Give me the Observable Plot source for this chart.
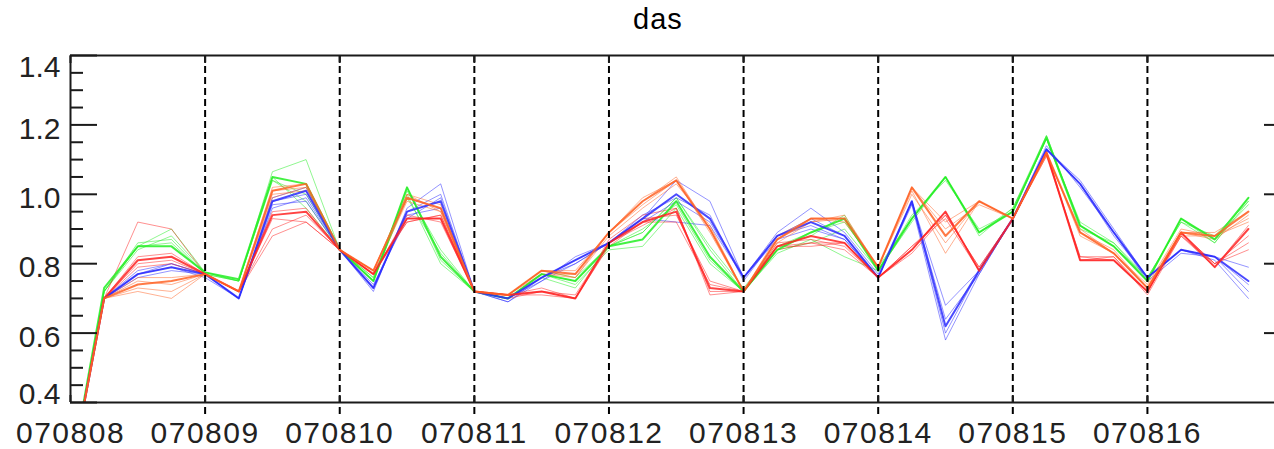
<!DOCTYPE html>
<html>
<head>
<meta charset="utf-8">
<script src="https://cdn.jsdelivr.net/npm/d3@7"></script>
<script src="https://cdn.jsdelivr.net/npm/@observablehq/plot@0.6"></script>
<style>
  html, body { margin: 0; padding: 0; background: #fff; }
  #title { position: relative; height: 37px; width: 1274px; overflow: hidden;
           font-family: "Liberation Sans", Arial, sans-serif; font-size: 29px; color: #000; }
  #title span { position: absolute; left: 633px; top: 5px; line-height: 29px; letter-spacing: 1px; }
  #chart svg { display: block; }
  #chart g[aria-label="x-axis tick label"] text { letter-spacing: 1.5px; }
</style>
</head>
<body>
<div id="title"><span>das</span></div>
<div id="chart"></div>
<script>
// time in days since 070808 00Z (every 6 hours)
const times = [0,0.25,0.5,0.75,1,1.25,1.5,1.75,2,2.25,2.5,2.75,3,3.25,3.5,3.75,4,4.25,4.5,4.75,5,5.25,5.5,5.75,6,6.25,6.5,6.75,7,7.25,7.5,7.75,8,8.25,8.5,8.75];
const days = [0,1,2,3,4,5,6,7,8];
const dayLabels = ["070808","070809","070810","070811","070812","070813","070814","070815","070816"];
const yMajor = [0.4,0.6,0.8,1.0,1.2,1.4];
const yMinor = [0.45,0.5,0.55,0.65,0.7,0.75,0.85,0.9,0.95,1.05,1.1,1.15,1.25,1.3,1.35];

// green ensemble
const greenCore = [0.19,0.73,0.85,0.85,0.775,0.755,1.05,1.03,0.84,0.75,1.02,0.82,0.72,0.70,0.77,0.75,0.85,0.87,0.98,0.82,0.72,0.84,0.89,0.93,0.78,0.93,1.05,0.89,0.95,1.165,0.91,0.85,0.75,0.93,0.87,0.99];
const green1 = [0.19,0.72,0.85,0.90,0.775,0.75,1.065,1.10,0.84,0.76,1.01,0.84,0.72,0.71,0.78,0.76,0.85,0.89,0.99,0.85,0.73,0.85,0.88,0.94,0.78,0.94,1.04,0.90,0.95,1.16,0.92,0.86,0.76,0.92,0.88,0.98];
const green2 = [0.19,0.72,0.84,0.88,0.775,0.75,1.04,0.98,0.84,0.75,1.00,0.80,0.72,0.70,0.77,0.74,0.84,0.85,0.96,0.80,0.72,0.83,0.87,0.82,0.78,0.92,1.05,0.88,0.96,1.17,0.91,0.85,0.75,0.93,0.86,0.99];
const green3 = [0.19,0.72,0.86,0.87,0.77,0.75,1.05,0.96,0.84,0.75,1.02,0.81,0.72,0.70,0.76,0.73,0.85,0.90,0.97,0.81,0.72,0.84,0.86,0.90,0.78,0.93,1.05,0.89,0.95,1.16,0.90,0.86,0.75,0.93,0.87,0.97];
const green4 = [0.19,0.72,0.85,0.86,0.77,0.75,1.04,1.00,0.84,0.76,0.99,0.83,0.72,0.70,0.77,0.75,0.85,0.89,0.99,0.84,0.72,0.85,0.89,0.92,0.79,0.93,1.05,0.89,0.96,1.16,0.91,0.85,0.76,0.92,0.86,0.98];

// blue ensemble
const blueCore = [0.19,0.70,0.77,0.79,0.77,0.70,0.98,1.01,0.84,0.73,0.95,0.98,0.72,0.70,0.76,0.81,0.86,0.93,1.00,0.93,0.76,0.88,0.92,0.88,0.76,0.98,0.62,0.78,0.93,1.13,1.03,0.89,0.76,0.84,0.82,0.75];
const blue1 = [0.19,0.70,0.78,0.80,0.77,0.70,0.99,1.02,0.84,0.72,0.96,1.03,0.72,0.69,0.75,0.82,0.86,0.93,1.04,0.98,0.76,0.89,0.96,0.89,0.77,0.98,0.68,0.78,0.93,1.13,1.04,0.90,0.76,0.84,0.82,0.79];
const blue2 = [0.19,0.70,0.76,0.78,0.77,0.70,0.97,0.98,0.84,0.74,0.93,0.99,0.72,0.70,0.75,0.80,0.86,0.92,0.98,0.92,0.76,0.87,0.90,0.87,0.76,0.97,0.58,0.77,0.93,1.14,1.02,0.89,0.75,0.83,0.82,0.72];
const blue3 = [0.19,0.70,0.77,0.79,0.76,0.70,0.96,0.99,0.84,0.73,0.94,0.96,0.72,0.69,0.76,0.81,0.86,0.94,0.99,0.94,0.75,0.88,0.93,0.88,0.76,0.98,0.64,0.77,0.93,1.13,1.03,0.89,0.76,0.84,0.81,0.70];
const blue4 = [0.19,0.70,0.77,0.80,0.77,0.70,0.98,1.00,0.84,0.73,0.95,1.00,0.72,0.70,0.76,0.80,0.86,0.93,0.92,0.91,0.76,0.88,0.91,0.87,0.76,0.98,0.60,0.78,0.93,1.13,1.03,0.88,0.76,0.84,0.82,0.74];

// red ensemble
const redCore = [0.19,0.70,0.81,0.82,0.77,0.72,0.94,0.95,0.84,0.77,0.93,0.93,0.72,0.71,0.72,0.70,0.86,0.92,0.95,0.73,0.72,0.85,0.88,0.86,0.76,0.84,0.95,0.78,0.93,1.12,0.81,0.81,0.72,0.89,0.79,0.90];
const red1 = [0.19,0.70,0.92,0.90,0.77,0.72,0.93,0.92,0.84,0.77,0.94,0.92,0.72,0.71,0.72,0.70,0.87,0.94,0.96,0.71,0.72,0.86,0.87,0.85,0.76,0.85,0.94,0.79,0.93,1.12,0.82,0.82,0.71,0.88,0.80,0.88];
const red2 = [0.19,0.70,0.82,0.83,0.77,0.72,0.88,0.92,0.84,0.78,0.92,0.94,0.72,0.71,0.71,0.70,0.86,0.93,0.94,0.75,0.72,0.84,0.86,0.84,0.76,0.84,0.95,0.78,0.93,1.11,0.82,0.81,0.72,0.89,0.80,0.86];
const red3 = [0.19,0.70,0.80,0.81,0.77,0.72,0.95,0.96,0.84,0.77,0.93,0.93,0.72,0.70,0.72,0.71,0.86,0.91,0.96,0.72,0.72,0.85,0.85,0.86,0.76,0.83,0.94,0.79,0.93,1.12,0.81,0.81,0.72,0.88,0.79,0.91];
const red4 = [0.19,0.70,0.79,0.80,0.77,0.72,0.90,0.94,0.84,0.77,0.92,0.94,0.72,0.71,0.73,0.70,0.85,0.92,0.92,0.74,0.72,0.85,0.86,0.86,0.76,0.85,0.93,0.78,0.93,1.12,0.81,0.82,0.72,0.89,0.80,0.84];

// orange ensemble
const orangeCore = [0.19,0.70,0.74,0.75,0.77,0.72,1.01,1.03,0.84,0.78,0.99,0.96,0.72,0.71,0.78,0.77,0.89,0.98,1.04,0.90,0.72,0.87,0.93,0.93,0.79,1.02,0.88,0.98,0.93,1.12,0.89,0.83,0.73,0.89,0.88,0.95];
const orange1 = [0.19,0.70,0.73,0.72,0.77,0.72,1.02,1.03,0.84,0.78,1.00,0.95,0.72,0.71,0.78,0.78,0.89,0.97,1.04,0.89,0.72,0.86,0.92,0.94,0.79,1.01,0.83,0.98,0.93,1.12,0.88,0.83,0.73,0.88,0.88,0.92];
const orange2 = [0.19,0.70,0.75,0.74,0.77,0.72,0.99,1.02,0.84,0.77,0.98,0.95,0.72,0.71,0.77,0.76,0.88,0.96,1.03,0.91,0.72,0.87,0.93,0.92,0.79,1.00,0.86,0.98,0.93,1.12,0.89,0.84,0.73,0.89,0.87,0.94];
const orange3 = [0.19,0.70,0.72,0.70,0.77,0.72,1.00,1.01,0.84,0.78,0.99,0.96,0.72,0.70,0.77,0.77,0.89,0.99,1.04,0.90,0.72,0.88,0.93,0.93,0.79,1.02,0.90,0.97,0.93,1.11,0.90,0.83,0.74,0.90,0.88,0.93];
const orange4 = [0.19,0.70,0.76,0.76,0.77,0.72,1.01,1.02,0.84,0.78,1.00,0.97,0.72,0.71,0.78,0.76,0.89,0.98,1.05,0.90,0.72,0.87,0.92,0.93,0.79,1.02,0.92,0.98,0.93,1.12,0.89,0.83,0.73,0.89,0.89,0.95];

const groups = [
  {color: "#22ee22", core: greenCore, members: [green1, green2, green3, green4]},
  {color: "#2a2aff", core: blueCore, members: [blue1, blue2, blue3, blue4]},
  {color: "#ff2222", core: redCore, members: [red1, red2, red3, red4]},
  {color: "#ff6326", core: orangeCore, members: [orange1, orange2, orange3, orange4]}
];

const thin = [], bold = [];
groups.forEach((g, gi) => {
  g.members.forEach((arr, mi) => arr.forEach((v, i) => thin.push({t: times[i], v, id: gi * 10 + mi, c: g.color})));
  g.core.forEach((v, i) => bold.push({t: times[i], v, id: gi, c: g.color}));
});

const ink = "#1a1a1a";
const font = "Liberation Sans, Arial, sans-serif";

const chart = Plot.plot({
  width: 1274,
  height: 412,
  marginLeft: 70,
  marginRight: 0,
  marginTop: 18,
  marginBottom: 47,
  style: {fontFamily: font, background: "#fff", color: ink},
  x: {domain: [0, 8.944], axis: null},
  y: {domain: [0.4, 1.4], axis: null},
  marks: [
    Plot.line(thin, {x: "t", y: "v", z: "id", stroke: "c", strokeWidth: 1, strokeOpacity: 0.5, clip: true}),
    Plot.line(bold, {x: "t", y: "v", z: "id", stroke: "c", strokeWidth: 2, strokeOpacity: 0.85, clip: true}),
    // dashed day separators
    Plot.ruleX(days.slice(1), {stroke: "#000", strokeWidth: 2, strokeDasharray: "7,4", insetBottom: -12}),
    // frame (top, bottom, left)
    Plot.ruleY([0.4, 1.4], {stroke: ink, strokeWidth: 2}),
    Plot.ruleX([0], {stroke: ink, strokeWidth: 2}),
    // y ticks (inward)
    Plot.axisY(yMajor, {anchor: "left", tickSize: -27, fill: "none", stroke: ink, strokeWidth: 2, label: null}),
    Plot.axisY(yMinor, {anchor: "left", tickSize: -13, fill: "none", stroke: ink, strokeWidth: 2, label: null}),
    Plot.axisY([0.6, 0.8, 1.0, 1.2], {anchor: "right", tickSize: -11, fill: "none", stroke: ink, strokeWidth: 2, label: null}),
    // y labels
    Plot.axisY([0.6, 0.8, 1.0, 1.2], {anchor: "left", tickSize: 0, tickPadding: 10, dy: 4, fontSize: 30, fill: "#222", tickFormat: d => d.toFixed(1), label: null}),
    Plot.axisY([1.4], {anchor: "left", tickSize: 0, tickPadding: 10, dy: 12, fontSize: 30, fill: "#222", tickFormat: d => d.toFixed(1), label: null}),
    Plot.axisY([0.4], {anchor: "left", tickSize: 0, tickPadding: 10, dy: -8, fontSize: 30, fill: "#222", tickFormat: d => d.toFixed(1), label: null}),
    // x ticks (inward, top and bottom)
    Plot.axisX(days, {anchor: "top", tickSize: -7, fill: "none", stroke: ink, strokeWidth: 2, label: null}),
    Plot.axisX(days, {anchor: "bottom", tickSize: -7, fill: "none", stroke: ink, strokeWidth: 2, label: null}),
    // x labels
    Plot.axisX(days, {anchor: "bottom", tickSize: 0, tickPadding: 19, fontSize: 30, fill: "#222", tickFormat: (d, i) => dayLabels[i], label: null})
  ]
});
document.getElementById("chart").appendChild(chart);
</script>
</body>
</html>
